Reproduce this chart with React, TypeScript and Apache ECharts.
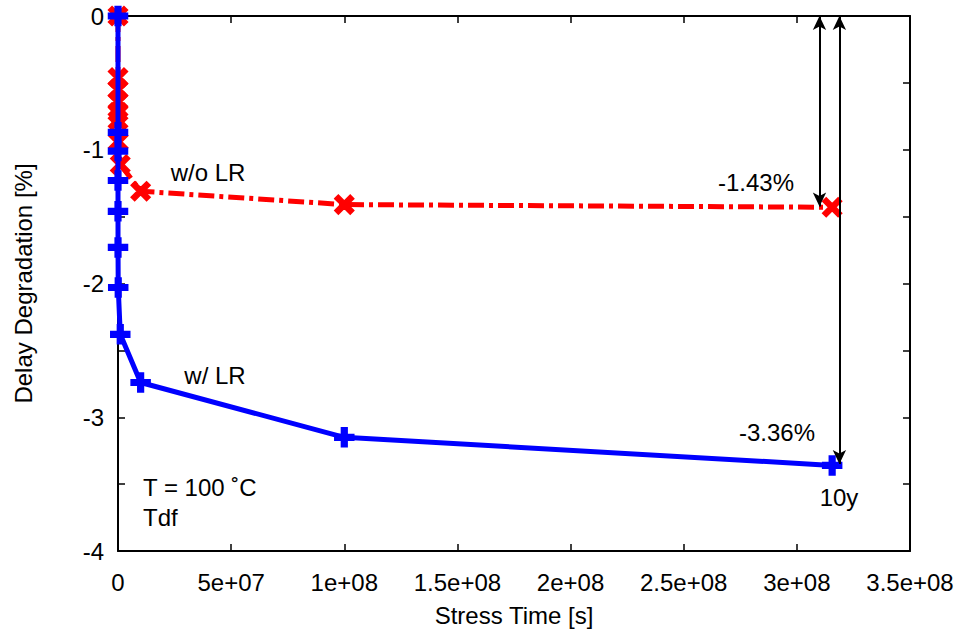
import React, { useEffect, useRef } from "react";
import * as echarts from "echarts";

// ---- data ----
const redTime = [0, 1, 10, 100, 1e3, 1e4, 1e5, 1e6, 1e7, 1e8, 3.156e8];
const redDelay = [0, -0.46, -0.55, -0.64, -0.72, -0.78, -0.94, -1.11, -1.31, -1.41, -1.43];
const blueTime = [0, 1, 10, 100, 1e3, 1e4, 1e5, 1e6, 1e7, 1e8, 3.156e8];
const blueDelay = [0, -0.87, -1.01, -1.23, -1.46, -1.73, -2.03, -2.38, -2.74, -3.15, -3.36];
const xTickLabels = ["0", "5e+07", "1e+08", "1.5e+08", "2e+08", "2.5e+08", "3e+08", "3.5e+08"];
const yTickValues = [-4, -3, -2, -1, 0];
const yTickLabels = ["-4", "-3", "-2", "-1", "0"];
const arrowRedX = 3.1e8;
const arrowBlueX = 3.188e8;
const arrowRedEnd = -1.425;
const arrowBlueEnd = -3.35;

const FONT = "'Liberation Sans', Arial, Helvetica, sans-serif";
const FS = 24;

const crossPath = "path://M0,3 L3,0 L8,5 L13,0 L16,3 L11,8 L16,13 L13,16 L8,11 L3,16 L0,13 L5,8 Z";
const plusPath = "path://M5.6,0 L10.4,0 L10.4,5.6 L16,5.6 L16,10.4 L10.4,10.4 L10.4,16 L5.6,16 L5.6,10.4 L0,10.4 L0,5.6 L5.6,5.6 Z";

export default function App() {
  const ref = useRef<HTMLDivElement>(null);
  useEffect(() => {
    if (!ref.current) return;
    const chart = echarts.init(ref.current, null, { renderer: "svg" });
    const axisCommon = {
      axisLine: { show: true, onZero: false, lineStyle: { color: "#000", width: 2 } },
      axisTick: { show: true, inside: true, length: 7, lineStyle: { color: "#000", width: 1.5 } },
      splitLine: { show: false },
    };
    const txt = (text: string, x: number, y: number, align = "center") => ({
      type: "text",
      x,
      y,
      style: { text, font: `${FS}px ${FONT}`, fill: "#000", textAlign: align, textVerticalAlign: "middle" },
    });
    const option: any = {
      animation: false,
      backgroundColor: "#fff",
      grid: { left: 118, right: 49, top: 16, bottom: 80, containLabel: false },
      xAxis: [
        {
          type: "value",
          min: 0,
          max: 3.5e8,
          interval: 5e7,
          position: "bottom",
          name: "Stress Time [s]",
          nameLocation: "middle",
          nameGap: 52,
          nameTextStyle: { fontFamily: FONT, fontSize: FS, color: "#000" },
          axisLabel: {
            fontFamily: FONT,
            fontSize: FS,
            color: "#000",
            margin: 19,
            formatter: (v: number) => xTickLabels[Math.round(v / 5e7)] ?? "",
          },
          ...axisCommon,
        },
        {
          type: "value",
          min: 0,
          max: 3.5e8,
          interval: 5e7,
          position: "top",
          axisLabel: { show: false },
          ...axisCommon,
        },
      ],
      yAxis: [
        {
          type: "value",
          min: -4,
          max: 0,
          interval: 0.5,
          position: "left",
          name: "Delay Degradation [%]",
          nameLocation: "middle",
          nameGap: 83,
          nameTextStyle: { fontFamily: FONT, fontSize: FS, color: "#000" },
          axisLabel: {
            fontFamily: FONT,
            fontSize: FS,
            color: "#000",
            margin: 14,
            formatter: (v: number) => {
              const i = yTickValues.indexOf(v);
              return i >= 0 ? yTickLabels[i] : "";
            },
          },
          ...axisCommon,
        },
        {
          type: "value",
          min: -4,
          max: 0,
          interval: 0.5,
          position: "right",
          axisLabel: { show: false },
          ...axisCommon,
        },
      ],
      series: [
        {
          type: "line",
          name: "w/o LR",
          data: redTime.map((t, i) => [t, redDelay[i]]),
          symbol: crossPath,
          symbolSize: 19,
          showAllSymbol: true,
          itemStyle: { color: "#ff0000", borderColor: "#ff0000", borderWidth: 1.5 },
          lineStyle: { color: "#ff0000", width: 5, type: [16, 5, 4, 5], cap: "butt" },
          z: 2,
          markLine: {
            silent: true,
            animation: false,
            symbol: ["arrow", "arrow"],
            symbolSize: [10, 14],
            label: { show: false },
            lineStyle: { color: "#000", width: 2, type: "solid" },
            emphasis: { disabled: true },
            data: [
              [{ coord: [arrowRedX, 0] }, { coord: [arrowRedX, arrowRedEnd] }],
              [{ coord: [arrowBlueX, 0] }, { coord: [arrowBlueX, arrowBlueEnd] }],
            ],
          },
        },
        {
          type: "line",
          name: "w/ LR",
          data: blueTime.map((t, i) => [t, blueDelay[i]]),
          symbol: plusPath,
          symbolSize: 19,
          showAllSymbol: true,
          itemStyle: { color: "#0000ff", borderColor: "#0000ff", borderWidth: 1.5 },
          lineStyle: { color: "#0000ff", width: 5 },
          z: 3,
        },
      ],
      graphic: [
        txt("w/o LR", 208, 172),
        txt("w/ LR", 215, 375),
        txt("-1.43%", 756, 182),
        txt("-3.36%", 777, 432),
        txt("10y", 839, 497),
        txt("T = 100 ˚C", 143, 487, "left"),
        txt("Tdf", 143, 517, "left"),
      ],
    };
    chart.setOption(option);
    return () => chart.dispose();
  }, []);
  return <div ref={ref} style={{ width: 959, height: 632, position: "absolute", left: 0, top: 0 }} />;
}
